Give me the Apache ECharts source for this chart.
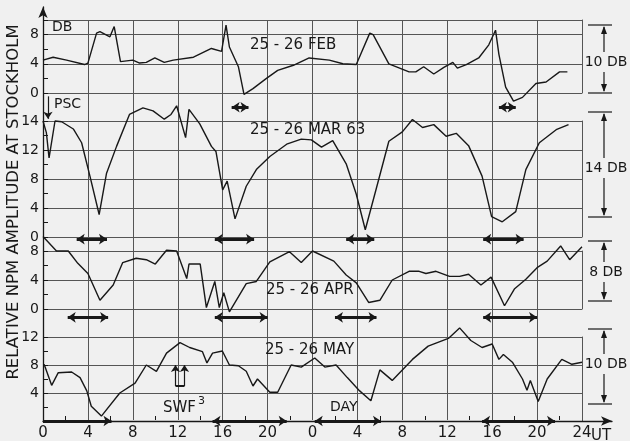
<!DOCTYPE html>
<html>
<head>
<meta charset="utf-8">
<script src="https://cdn.jsdelivr.net/npm/echarts@6/dist/echarts.min.js"></script>
<style>html,body{margin:0;background:#f0f0f0}#main{width:630px;height:441px}</style>
</head>
<body>
<div id="main"></div>
<script>
// hours run 0..48 over the two days (UT)
var utLabels = ['0','4','8','12','16','20','0','4','8','12','16','20','24'];

var febHours = [0,0.9,2.1,3.7,4.0,4.77,5.07,5.96,6.34,6.9,8.0,8.6,9.2,9.96,10.8,11.6,13.4,15.0,15.9,16.3,16.6,17.4,17.9,18.7,19.9,20.9,22.3,23.7,25.5,26.7,27.9,29.1,29.4,30.8,32.6,33.2,33.9,34.8,35.7,36.5,36.9,37.7,38.8,39.7,40.3,40.6,41.2,41.9,42.7,43.9,44.8,46.0,46.7];
var febDb    = [4.5,4.9,4.5,3.9,4.1,8.2,8.4,7.7,9.1,4.3,4.5,4.1,4.2,4.8,4.2,4.5,4.9,6.1,5.7,9.3,6.3,3.6,-0.2,0.6,2.0,3.1,3.8,4.8,4.5,4.0,3.9,8.2,8.0,4.0,2.9,2.9,3.6,2.6,3.5,4.2,3.4,3.9,4.8,6.6,8.6,5.3,0.8,-1.1,-0.6,1.3,1.5,2.9,2.9];

var marHours = [0,0.3,0.54,1.07,1.66,2.7,3.44,4.18,5.0,5.66,6.55,7.7,8.9,9.8,10.8,11.4,11.9,12.7,13.0,13.96,15.0,15.4,16.0,16.4,17.1,18.1,19.0,20.2,21.7,23.0,23.9,24.8,25.8,27.0,27.9,28.7,29.7,30.8,32.0,32.9,33.8,34.8,35.9,36.8,37.9,39.1,39.95,40.9,42.1,43.0,44.2,45.7,46.8];
var marDb    = [16.0,14.4,10.9,16.0,15.9,14.9,13.0,8.4,3.1,8.8,12.5,16.9,17.8,17.4,16.25,16.9,18.1,13.7,17.6,15.6,12.5,11.8,6.5,7.7,2.5,7.0,9.3,11.1,12.8,13.5,13.4,12.4,13.3,10.1,5.9,1.0,6.8,13.2,14.5,16.2,15.1,15.5,13.9,14.3,12.6,8.4,2.8,2.1,3.5,9.3,13.0,14.8,15.5];

var aprHours = [0,1.2,2.25,3.1,4.0,5.07,6.25,7.1,8.3,9.2,10.0,11.0,11.9,12.8,13.0,14.0,14.55,15.3,15.7,16.1,16.6,18.1,19.0,20.2,21.95,23.0,24.0,25.9,27.0,27.9,29.0,30.0,31.1,32.6,33.5,34.1,35.0,36.2,37.1,37.9,39.0,39.9,41.1,42.0,43.0,44.0,44.9,46.1,46.9,48.0];
var aprDb    = [10.0,8.0,8.0,6.3,4.9,1.2,3.3,6.4,7.0,6.8,6.2,8.1,8.0,4.2,6.2,6.2,0.2,3.8,0.2,2.25,-0.4,3.5,3.8,6.5,7.9,6.4,8.0,6.6,4.7,3.6,0.9,1.2,4.0,5.2,5.2,4.9,5.2,4.5,4.5,4.8,3.3,4.4,0.45,2.8,4.1,5.7,6.6,8.7,6.8,8.6];

var mayHours = [0.1,0.77,1.36,2.55,3.3,3.9,4.3,5.2,6.84,8.2,9.2,10.1,11.0,12.2,13.06,14.2,14.6,15.1,15.97,16.6,17.4,18.1,18.7,19.1,20.2,20.9,22.1,23.0,24.2,25.1,26.1,27.1,28.2,29.2,30.0,31.1,32.9,34.3,36.1,37.1,38.1,39.1,40.0,40.6,41.0,41.8,42.7,43.1,43.4,44.1,44.9,46.2,47.1,48.0];
var mayDb    = [8.1,5.1,6.9,7.0,6.2,4.3,2.1,0.7,4.0,5.4,8.0,7.1,9.7,11.2,10.5,9.9,8.3,9.7,10.0,8.0,7.9,7.1,5.0,6.0,4.1,4.1,8.0,7.7,9.0,7.7,8.0,6.2,4.3,2.9,7.3,5.8,8.8,10.7,11.8,13.3,11.5,10.5,11.0,8.8,9.5,8.4,6.0,4.4,5.8,2.8,6.0,8.8,8.1,8.4];

// double-headed interval arrows [from hour, to hour]
var febArrows = [[16.8,18.3],[40.6,42.1]];
var marArrows = [[3.0,5.7],[15.3,18.8],[27.0,29.5],[39.2,42.8]];
var aprArrows = [[2.2,5.8],[15.3,20.0],[26.0,29.7],[39.2,44.0]];
var mayArrows = [[15.1,21.7],[24.2,30.1],[39.1,45.6]];
var mayDayStart = [0, 6.1];   // single-headed, starts at the origin

var febTickLabels = {0:'0',4:'4',8:'8',10:''};
var marTickLabels = {0:'0',4:'4',8:'8',12:'12',16:'14'};
var aprTickLabels = {0:'0',4:'4',8:'8'};
var mayTickLabels = {0:'',4:'4',8:'8',12:'12'};

// PSC marker (Mar panel) and SWF arrows (May panel)
var pscHour = 0.44, pscFrom = 19.4, pscTo = 16.3;
var swfHours = [11.8, 12.6], swfFrom = 5.0, swfTo = 8.0;

var INK = '#181818', GRIDC = '#555555', FONT = '"DejaVu Sans"';

var panels = [
	{hours:febHours, db:febDb, labels:febTickLabels, arrows:febArrows, level:-1.95, max:10, top:20, height:73},
	{hours:marHours, db:marDb, labels:marTickLabels, arrows:marArrows, level:-0.3, max:16, top:121, height:116},
	{hours:aprHours, db:aprDb, labels:aprTickLabels, arrows:aprArrows, level:-1.15, max:8, top:251, height:58},
	{hours:mayHours, db:mayDb, labels:mayTickLabels, arrows:mayArrows, level:0, max:12, top:337, height:84}
];

var grids = [{left:43, right:48, top:20, bottom:20}];
var xAxes = [{
	gridIndex:0, type:'value', min:0, max:48, interval:4,
	axisLine:{show:false},
	axisTick:{show:false, inside:true},
	minorTick:{show:true, splitNumber:2, length:4, lineStyle:{color:INK, width:1}},
	splitLine:{show:true, showMinLine:false, showMaxLine:false, lineStyle:{color:GRIDC, width:1}},
	axisLabel:{color:INK, fontSize:15, fontFamily:'DejaVu Sans', margin:6,
		formatter:function(v){ return utLabels[Math.round(v/4)]; }}
}];
var yAxes = [{gridIndex:0, type:'value', show:false}];
var series = [];
var mainAxis = [];

function arrowSeries(g, yi, segs, sym, width, size){
	return {
		type:'lines', coordinateSystem:'cartesian2d', xAxisIndex:g, yAxisIndex:yi,
		clip:false, silent:true, animation:false, polyline:false, z:5,
		symbol:sym, symbolSize:size,
		lineStyle:{color:INK, width:width, type:'solid', opacity:1},
		data:segs.map(function(s){ return {coords:s}; })
	};
}

panels.forEach(function(p, i){
	var g = i + 1;
	grids.push({left:43, right:48, top:p.top, height:p.height});
	xAxes.push({gridIndex:g, type:'value', min:0, max:48, show:false});
	var mainIdx = yAxes.length;
	mainAxis.push(mainIdx);
	yAxes.push({
		gridIndex:g, type:'value', min:0, max:p.max, interval:4, position:'left',
		axisLine:{show:false}, axisTick:{show:false},
		splitLine:{show:true, lineStyle:{color:GRIDC, width:1}},
		axisLabel:{color:INK, fontSize:14, fontFamily:'DejaVu Sans', margin:4,
			formatter:(function(lab){ return function(v){ return lab[v] !== undefined ? lab[v] : ''; }; })(p.labels)}
	});
	yAxes.push({
		gridIndex:g, type:'value', min:0, max:p.max, interval:2, position:'left',
		axisLine:{show:false}, axisLabel:{show:false}, splitLine:{show:false},
		axisTick:{show:true, inside:true, length:5, lineStyle:{color:INK}}
	});
	yAxes.push({
		gridIndex:g, type:'value', min:0, max:p.max, position:'right',
		axisLine:{show:true, lineStyle:{color:GRIDC, width:1}},
		axisTick:{show:false}, axisLabel:{show:false}, splitLine:{show:false}
	});
	var pts = p.hours.map(function(h, k){ return [h, p.db[k]]; });
	series.push({
		type:'line', xAxisIndex:g, yAxisIndex:mainIdx, data:pts,
		clip:false, showSymbol:false, symbol:'none', animation:false, silent:true,
		lineStyle:{color:INK, width:1.4}
	});
	var segs = p.arrows.map(function(a){ return [[a[0], p.level], [a[1], p.level]]; });
	series.push(arrowSeries(g, mainIdx, segs, ['arrow','arrow'], 3, 8));
});

series.push(arrowSeries(4, mainAxis[3], [[[mayDayStart[0], 0], [mayDayStart[1], 0]]], ['none','arrow'], 3, 8));
series.push(arrowSeries(2, mainAxis[1], [[[pscHour, pscFrom], [pscHour, pscTo]]], ['none','arrow'], 1.2, 7));
series.push(arrowSeries(4, mainAxis[3], swfHours.map(function(h){ return [[h, swfFrom], [h, swfTo]]; }), ['none','arrow'], 1.2, 7));
series.push(arrowSeries(4, mainAxis[3], [[[swfHours[0], swfFrom], [swfHours[1], swfFrom]]], ['none','none'], 2, 1));

// frame: left axis arrow and bottom UT axis arrow
grids.push({left:43, top:7, right:18, bottom:20});
xAxes.push({gridIndex:5, type:'value', min:0, max:1,
	axisLine:{show:true, symbol:['none','arrow'], symbolSize:[7,11], lineStyle:{color:INK, width:1.3}},
	axisTick:{show:false}, axisLabel:{show:false}, splitLine:{show:false}});
yAxes.push({gridIndex:5, type:'value', min:0, max:1,
	axisLine:{show:true, symbol:['none','arrow'], symbolSize:[7,11], lineStyle:{color:INK, width:1.3}},
	axisTick:{show:false}, axisLabel:{show:false}, splitLine:{show:false}});
series.push({type:'line', xAxisIndex:5, yAxisIndex:yAxes.length-1, data:[], silent:true});

function txt(s, x, y, size, align, rot){
	return {type:'text', x:x, y:y, rotation:rot||0, z:20, silent:true,
		style:{text:s, font:size+'px '+FONT, fill:INK, align:align||'left', verticalAlign:'middle'}};
}
function bracket(top, bottom, ty, label){
	var x = 604, out = [];
	var ls = {stroke:INK, lineWidth:1.2};
	out.push({type:'line', silent:true, shape:{x1:588,y1:top,x2:612,y2:top}, style:ls});
	out.push({type:'line', silent:true, shape:{x1:588,y1:bottom,x2:612,y2:bottom}, style:ls});
	out.push({type:'line', silent:true, shape:{x1:x,y1:top+2,x2:x,y2:ty-10}, style:ls});
	out.push({type:'line', silent:true, shape:{x1:x,y1:ty+10,x2:x,y2:bottom-2}, style:ls});
	out.push({type:'polygon', silent:true, shape:{points:[[x,top+1],[x-3,top+9],[x+3,top+9]]}, style:{fill:INK}});
	out.push({type:'polygon', silent:true, shape:{points:[[x,bottom-1],[x-3,bottom-9],[x+3,bottom-9]]}, style:{fill:INK}});
	out.push(txt(label, 606, ty, 14, 'center'));
	return out;
}

var graphic = [
	txt('RELATIVE NPM AMPLITUDE AT STOCKHOLM', 14, 202, 16.5, 'center', Math.PI/2),
	txt('DB', 52, 27, 14),
	txt('PSC', 54, 104, 14),
	txt('25 - 26 FEB', 250, 45, 15),
	txt('25 - 26 MAR 63', 250, 130, 15),
	txt('25 - 26 APR', 266, 290, 15),
	txt('25 - 26 MAY', 265, 350, 15),
	txt('DAY', 330, 407, 14),
	txt('SWF', 163, 408, 15),
	txt('3', 198, 401, 11),
	txt('UT', 591, 436, 15)
].concat(bracket(25, 93, 62, '10 DB'), bracket(112, 217, 168, '14 DB'),
	bracket(241, 301, 272, '8 DB'), bracket(329, 404, 364, '10 DB'));

var chart = echarts.init(document.getElementById('main'));
chart.setOption({
	backgroundColor:'#f0f0f0',
	animation:false,
	grid:grids,
	xAxis:xAxes,
	yAxis:yAxes,
	series:series,
	graphic:graphic
});
</script>
</body>
</html>
